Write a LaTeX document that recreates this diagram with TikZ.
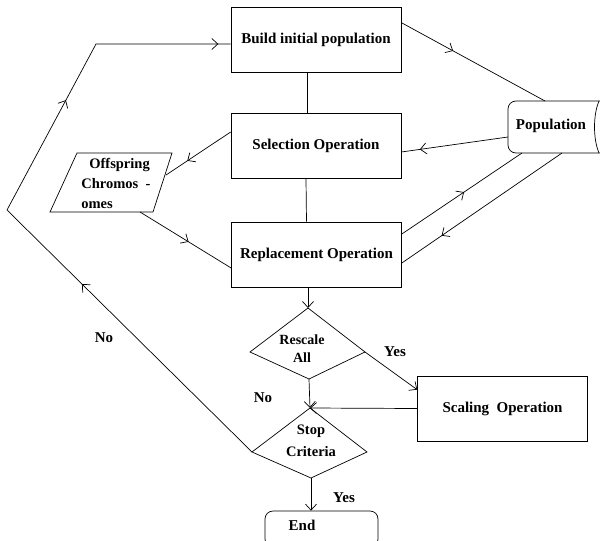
\documentclass[tikz,border=0pt]{standalone}
\usepackage{fontspec}
\setmainfont{Liberation Serif}
\usetikzlibrary{arrows.meta,decorations.markings,calc}
\begin{document}
\begin{tikzpicture}[x=1pt,y=-1pt, line width=0.7pt,
  font=\fontsize{15}{17}\selectfont\bfseries,
  >={Straight Barb[length=6pt,width=11pt]},
  box/.style={draw, minimum width=170pt, minimum height=65pt, inner sep=0pt},
  lbl/.style={inner sep=0pt},
  midarrow/.style={postaction={decorate}, decoration={markings, mark=at position #1 with {\arrow{>}}}}
]
\useasboundingbox (0,0) rectangle (600,541);

% boxes
\node[box] (build) at (316,39.5) {Build initial population};
\node[box] (sel) at (316,146) {Selection Operation};
\node[box] (rep) at (316.5,254.5) {Replacement Operation};
\node[box] (scal) at (502.5,408.5) {Scaling\ \ Operation};

% population store
\node[lbl] (pop) at (551,126) {Population};
\draw[rounded corners=8pt] (600,101) -- (508,101) -- (508,153) -- (600,153);
\draw (599,101) .. controls (593,115) and (593,139) .. (599,153);
\coordinate (popT) at (545,101);
\coordinate (popL) at (508,137);
\coordinate (popB1) at (522,153);
\coordinate (popB2) at (562,153);

% offspring parallelogram
\coordinate (oTL) at (77,153);
\coordinate (oTR) at (172,153);
\coordinate (oBR) at (153,212);
\coordinate (oBL) at (50,212);
\draw (oTL) -- (oTR) -- (oBR) -- (oBL) -- cycle;
\coordinate (offR) at (166,175);
\coordinate (offB) at (140,212);
\node[lbl, anchor=west, align=left, font=\fontsize{14.5}{20}\selectfont\bfseries] (offtxt) at (81,183) {\hspace*{8pt}Offspring\\Chromos\ \ -\\omes};

% diamonds
\coordinate (rT) at (308,308);
\coordinate (rL) at (250,352);
\coordinate (rR) at (365,352);
\coordinate (rB) at (309,379);
\draw (rT) -- (rR) -- (rB) -- (rL) -- cycle;
\node[lbl, align=center, font=\fontsize{14}{18}\selectfont\bfseries] (rtxt) at (302,349) {Rescale\\All};

\coordinate (sT) at (310,408);
\coordinate (sL) at (252,452);
\coordinate (sR) at (367,452);
\coordinate (sB) at (311,478);
\draw (sT) -- (sR) -- (sB) -- (sL) -- cycle;
\node[lbl, align=center, font=\fontsize{14.5}{22}\selectfont\bfseries] (stxt) at (311,441) {Stop\\Criteria};

% end
\node[draw, rounded corners=8pt, minimum width=113pt, minimum height=36pt] (end) at (321.5,529) {};
\node[lbl] (endtxt) at (302,525) {End};

% loop corners
\coordinate (lp1) at (7,210);
\coordinate (lp2) at (96,44);

% connectors
\draw ([xshift=-9pt]build.south) -- ([xshift=-9pt]sel.north);
\draw ([xshift=-10pt]sel.south) -- ([xshift=-10pt]rep.north);
\draw[midarrow=59pt] ([yshift=-16pt]build.north east) -- (popT);
\draw[midarrow=89pt] (popL) -- ([yshift=-6pt]sel.east);
\draw[midarrow=75pt] ([yshift=20.5pt]rep.east) -- (popB1);
\draw[midarrow=146pt] (popB2) -- ([yshift=-8.5pt]rep.east);
\draw[midarrow=52pt] ([yshift=14pt]sel.west) -- (offR);
\draw[midarrow=57pt] (offB) -- ([yshift=-13.5pt]rep.west);
\draw[->] ([xshift=-8.5pt]rep.south) -- (rT);
\draw[->] (rB) -- (sT);
\draw[->] (scal.west) -- (sT);
\draw[->] (rR) -- ([yshift=-14pt]scal.north west);
\draw[->] (sB) -- (sB |- end.north);
\draw[postaction={decorate}, decoration={markings,
    mark=at position 239pt with {\arrow{>}},
    mark=at position 469pt with {\arrow{>}},
    mark=at position 655pt with {\arrow{>}}}]
  (sL) -- (lp1) -- (lp2) -- ([yshift=-4.5pt]build.west);

% labels
\node[lbl] (no1) at (104,338) {No};
\node[lbl] (no2) at (263,398) {No};
\node[lbl] (yes1) at (395,352) {Yes};
\node[lbl] (yes2) at (344,498) {Yes};
\end{tikzpicture}
\end{document}
